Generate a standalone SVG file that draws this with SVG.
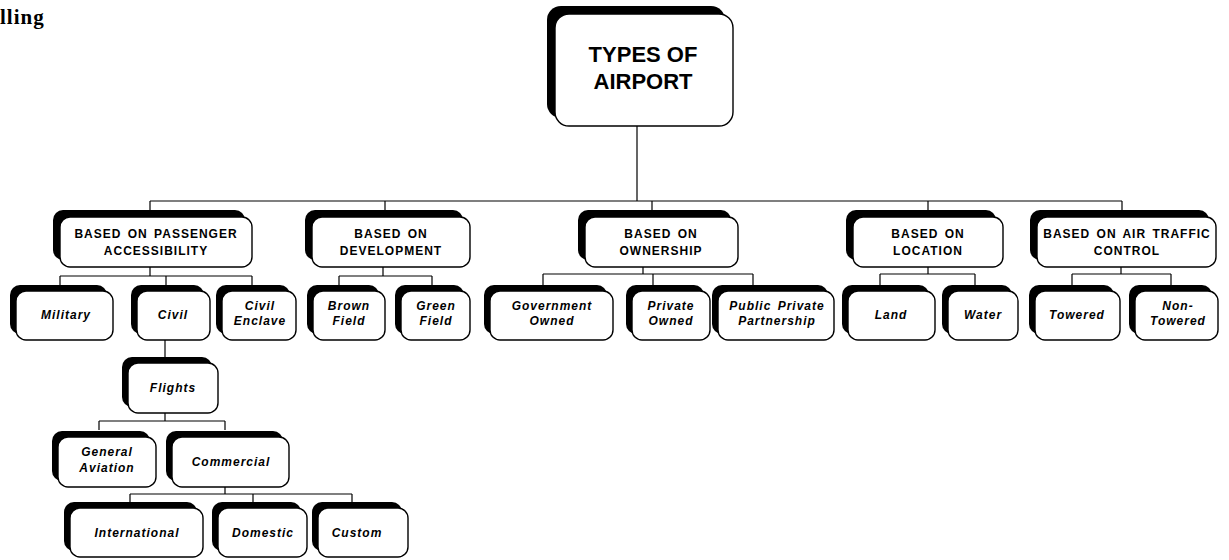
<svg xmlns="http://www.w3.org/2000/svg" width="1229" height="560" viewBox="0 0 1229 560">
<style>
.sh{fill:#000}
.bx{fill:#fff;stroke:#000;stroke-width:1.4}
.tt{font-family:"Liberation Sans",Arial,sans-serif;font-weight:bold;font-size:22px;fill:#000;text-anchor:middle}
.hd{font-family:"Liberation Sans",Arial,sans-serif;font-weight:bold;font-size:12px;letter-spacing:1px;word-spacing:2px;fill:#000;text-anchor:middle}
.ch{font-family:"Liberation Sans",Arial,sans-serif;font-weight:bold;font-style:italic;font-size:12px;letter-spacing:1px;word-spacing:2px;fill:#000;text-anchor:middle}
.ln{stroke:#000;stroke-width:1.2;fill:none}
.cap{font-family:"Liberation Serif","Times New Roman",serif;font-weight:bold;font-size:21px;letter-spacing:1px;fill:#000}
</style>
<rect width="1229" height="560" fill="#fff"/>
<text class="cap" x="0" y="24">lling</text>

<g id="connectors">
<path class="ln" d="M637,126V201M150,201H1122M150,201V210M385,201V210M652,201V210M928,201V210M1122,201V210"/>
<path class="ln" d="M150,267V276M60,276H252M60,276V285M166,276V285M252,276V285"/>
<path class="ln" d="M383,267V276M339,276H432M339,276V285M432,276V285"/>
<path class="ln" d="M643,267V274M543,274H753M543,274V285M653,274V285M753,274V285"/>
<path class="ln" d="M928,267V274M880,274H975M880,274V285M975,274V285"/>
<path class="ln" d="M1121,267V274M1072,274H1171M1072,274V285M1171,274V285"/>
<path class="ln" d="M165,340V357"/>
<path class="ln" d="M165,413V421M99,421H225M99,421V430M225,421V430"/>
<path class="ln" d="M225,487V494M130,494H352M130,494V502M253,494V502M352,494V502"/>
</g>

<g id="n-root">
<rect class="sh" x="547" y="6" width="178" height="112" rx="14"/>
<rect class="bx" x="555" y="14" width="178" height="112" rx="14"/>
<text class="tt" x="643" y="62">TYPES OF</text>
<text class="tt" x="643" y="89">AIRPORT</text>
</g>

<g id="n-passenger">
<rect class="sh" x="53" y="210" width="192" height="50" rx="10"/>
<rect class="bx" x="60" y="217" width="192" height="50" rx="10"/>
<text class="hd" x="156" y="238">BASED ON PASSENGER</text>
<text class="hd" x="156" y="255">ACCESSIBILITY</text>
</g>
<g id="n-development">
<rect class="sh" x="305" y="210" width="158" height="50" rx="10"/>
<rect class="bx" x="312" y="217" width="158" height="50" rx="10"/>
<text class="hd" x="391" y="238">BASED ON</text>
<text class="hd" x="391" y="255">DEVELOPMENT</text>
</g>
<g id="n-ownership">
<rect class="sh" x="578" y="210" width="153" height="50" rx="10"/>
<rect class="bx" x="585" y="217" width="153" height="50" rx="10"/>
<text class="hd" x="661" y="238">BASED ON</text>
<text class="hd" x="661" y="255">OWNERSHIP</text>
</g>
<g id="n-location">
<rect class="sh" x="846" y="210" width="150" height="50" rx="10"/>
<rect class="bx" x="853" y="217" width="150" height="50" rx="10"/>
<text class="hd" x="928" y="238">BASED ON</text>
<text class="hd" x="928" y="255">LOCATION</text>
</g>
<g id="n-atc">
<rect class="sh" x="1030" y="210" width="179" height="50" rx="10"/>
<rect class="bx" x="1037" y="217" width="179" height="50" rx="10"/>
<text class="hd" x="1127" y="238">BASED ON AIR TRAFFIC</text>
<text class="hd" x="1127" y="255">CONTROL</text>
</g>

<g id="n-military">
<rect class="sh" x="10" y="285" width="97" height="49" rx="10"/>
<rect class="bx" x="16" y="291" width="97" height="49" rx="10"/>
<text class="ch" x="66" y="319">Military</text>
</g>
<g id="n-civil">
<rect class="sh" x="131" y="285" width="73" height="49" rx="10"/>
<rect class="bx" x="137" y="291" width="73" height="49" rx="10"/>
<text class="ch" x="173" y="319">Civil</text>
</g>
<g id="n-civil-enclave">
<rect class="sh" x="216" y="285" width="74" height="49" rx="10"/>
<rect class="bx" x="222" y="291" width="74" height="49" rx="10"/>
<text class="ch" x="260" y="310">Civil</text>
<text class="ch" x="260" y="325">Enclave</text>
</g>
<g id="n-brown">
<rect class="sh" x="307" y="285" width="72" height="49" rx="10"/>
<rect class="bx" x="313" y="291" width="72" height="49" rx="10"/>
<text class="ch" x="349" y="310">Brown</text>
<text class="ch" x="349" y="325">Field</text>
</g>
<g id="n-green">
<rect class="sh" x="395" y="285" width="69" height="49" rx="10"/>
<rect class="bx" x="401" y="291" width="69" height="49" rx="10"/>
<text class="ch" x="436" y="310">Green</text>
<text class="ch" x="436" y="325">Field</text>
</g>
<g id="n-government">
<rect class="sh" x="484" y="285" width="123" height="49" rx="10"/>
<rect class="bx" x="490" y="291" width="123" height="49" rx="10"/>
<text class="ch" x="552" y="310">Government</text>
<text class="ch" x="552" y="325">Owned</text>
</g>
<g id="n-private">
<rect class="sh" x="626" y="285" width="78" height="49" rx="10"/>
<rect class="bx" x="632" y="291" width="78" height="49" rx="10"/>
<text class="ch" x="671" y="310">Private</text>
<text class="ch" x="671" y="325">Owned</text>
</g>
<g id="n-ppp">
<rect class="sh" x="712" y="285" width="116" height="49" rx="10"/>
<rect class="bx" x="718" y="291" width="116" height="49" rx="10"/>
<text class="ch" x="777" y="310">Public Private</text>
<text class="ch" x="777" y="325">Partnership</text>
</g>
<g id="n-land">
<rect class="sh" x="842" y="285" width="87" height="49" rx="10"/>
<rect class="bx" x="848" y="291" width="87" height="49" rx="10"/>
<text class="ch" x="891" y="319">Land</text>
</g>
<g id="n-water">
<rect class="sh" x="942" y="285" width="70" height="49" rx="10"/>
<rect class="bx" x="948" y="291" width="70" height="49" rx="10"/>
<text class="ch" x="983" y="319">Water</text>
</g>
<g id="n-towered">
<rect class="sh" x="1029" y="285" width="85" height="49" rx="10"/>
<rect class="bx" x="1035" y="291" width="85" height="49" rx="10"/>
<text class="ch" x="1077" y="319">Towered</text>
</g>
<g id="n-nontowered">
<rect class="sh" x="1129" y="285" width="83" height="49" rx="10"/>
<rect class="bx" x="1135" y="291" width="83" height="49" rx="10"/>
<text class="ch" x="1178" y="310">Non-</text>
<text class="ch" x="1178" y="325">Towered</text>
</g>

<g id="n-flights">
<rect class="sh" x="122" y="357" width="90" height="50" rx="10"/>
<rect class="bx" x="128" y="363" width="90" height="50" rx="10"/>
<text class="ch" x="173" y="392">Flights</text>
</g>
<g id="n-general">
<rect class="sh" x="52" y="431" width="98" height="50" rx="10"/>
<rect class="bx" x="58" y="437" width="98" height="50" rx="10"/>
<text class="ch" x="107" y="456">General</text>
<text class="ch" x="107" y="472">Aviation</text>
</g>
<g id="n-commercial">
<rect class="sh" x="166" y="431" width="117" height="50" rx="10"/>
<rect class="bx" x="172" y="437" width="117" height="50" rx="10"/>
<text class="ch" x="231" y="466">Commercial</text>
</g>
<g id="n-international">
<rect class="sh" x="64" y="502" width="133" height="49" rx="10"/>
<rect class="bx" x="70" y="508" width="133" height="49" rx="10"/>
<text class="ch" x="137" y="537">International</text>
</g>
<g id="n-domestic">
<rect class="sh" x="212" y="502" width="89" height="49" rx="10"/>
<rect class="bx" x="218" y="508" width="89" height="49" rx="10"/>
<text class="ch" x="263" y="537">Domestic</text>
</g>
<g id="n-custom">
<rect class="sh" x="312" y="502" width="90" height="49" rx="10"/>
<rect class="bx" x="318" y="508" width="90" height="49" rx="10"/>
<text class="ch" x="357" y="537">Custom</text>
</g>
</svg>
